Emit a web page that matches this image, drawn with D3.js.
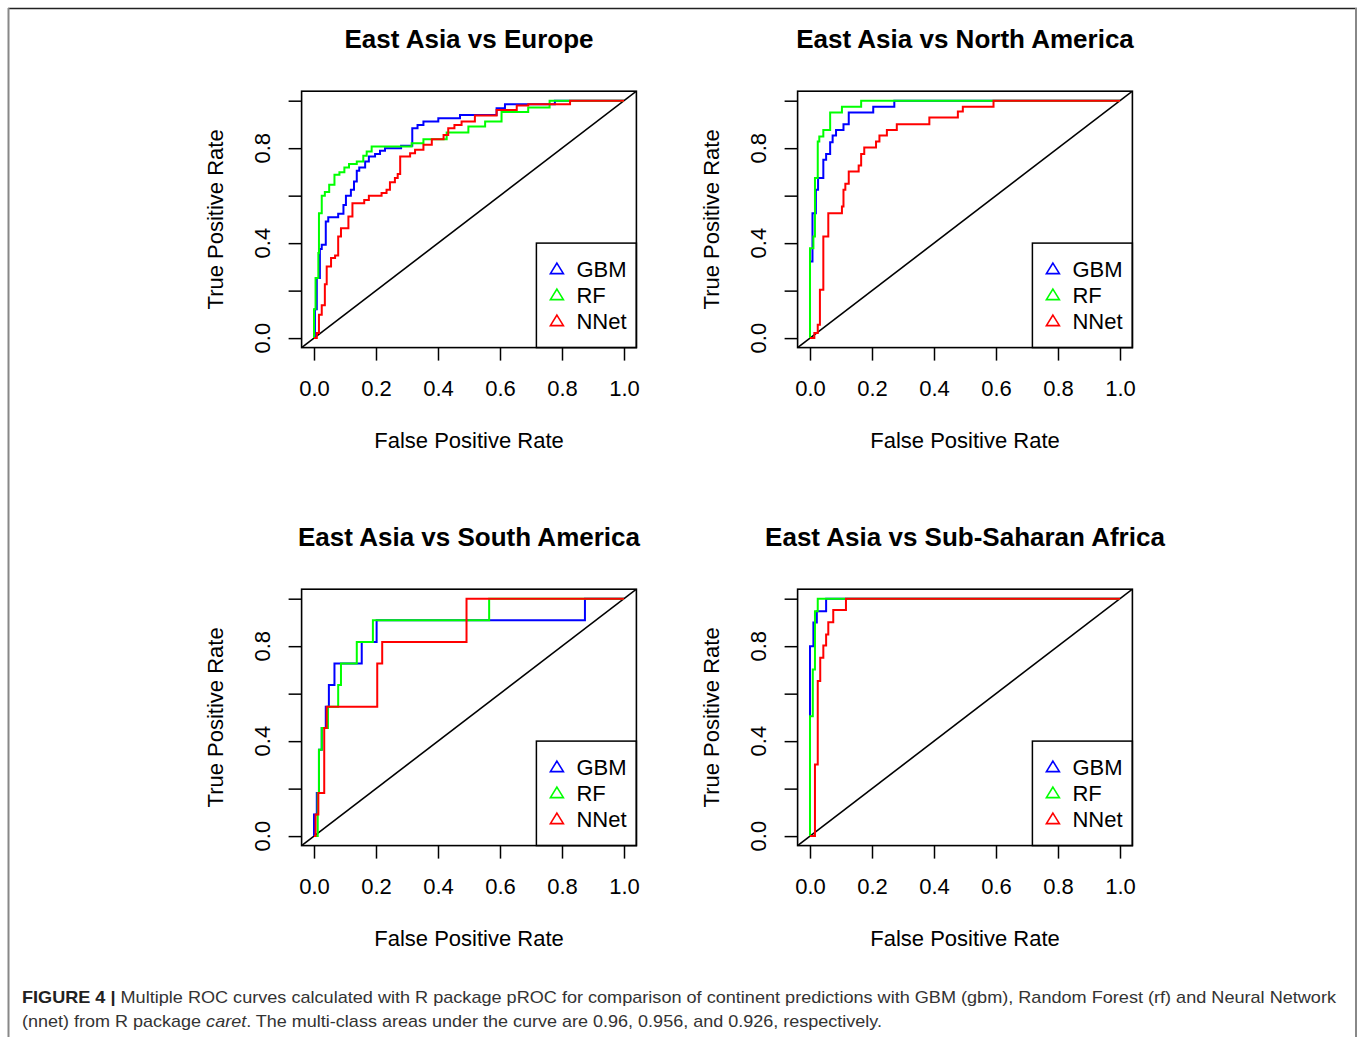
<!DOCTYPE html>
<html>
<head>
<meta charset="utf-8">
<script src="https://cdn.jsdelivr.net/npm/d3@7"></script>
<style>
  body { margin: 0; background: #fff; }
  text { font-family: "Liberation Sans", Arial, sans-serif; }
</style>
</head>
<body>
<div id="chart"></div>
<script>
// axis ticks
var fprTicks = [0, 0.2, 0.4, 0.6, 0.8, 1.0];
var tprTicks = [0, 0.2, 0.4, 0.6, 0.8, 1.0];
var tprLabels = [0, 0.4, 0.8];

var panelTitles = ["East Asia vs Europe", "East Asia vs North America",
                   "East Asia vs South America", "East Asia vs Sub-Saharan Africa"];
var models = ["GBM", "RF", "NNet"];

// each point = [fpr where the curve rises, tpr after the rise]
var europeGBM = [[0,0],[0.003,0.122],[0.009,0.253],[0.019,0.375],[0.025,0.393],[0.038,0.491],[0.046,0.509],
  [0.078,0.524],[0.095,0.561],[0.103,0.6],[0.119,0.625],[0.129,0.66],[0.138,0.705],[0.146,0.719],[0.165,0.744],
  [0.177,0.765],[0.197,0.776],[0.213,0.789],[0.229,0.8],[0.281,0.81],[0.317,0.884],[0.334,0.898],[0.353,0.912],
  [0.401,0.926],[0.471,0.94],[0.589,0.968],[0.616,0.985],[0.777,1],[1,1]];
var europeRF = [[0,0],[0,0.122],[0.005,0.253],[0.014,0.358],[0.016,0.526],[0.025,0.6],[0.035,0.615],[0.049,0.646],
  [0.066,0.688],[0.082,0.699],[0.098,0.719],[0.113,0.733],[0.138,0.744],[0.159,0.768],[0.17,0.786],[0.186,0.807],
  [0.315,0.821],[0.353,0.838],[0.428,0.866],[0.498,0.891],[0.552,0.912],[0.605,0.952],[0.691,0.971],[0.76,1],[1,1]];
var europeNNet = [[0,0],[0.009,0.021],[0.016,0.098],[0.025,0.138],[0.035,0.227],[0.041,0.302],[0.055,0.337],
  [0.068,0.348],[0.078,0.428],[0.087,0.463],[0.111,0.512],[0.124,0.568],[0.162,0.582],[0.177,0.6],[0.218,0.611],
  [0.234,0.625],[0.245,0.657],[0.261,0.674],[0.27,0.691],[0.278,0.765],[0.31,0.779],[0.326,0.793],[0.353,0.814],
  [0.38,0.838],[0.418,0.856],[0.433,0.884],[0.453,0.898],[0.476,0.912],[0.519,0.938],[0.589,0.961],[0.654,0.98],
  [0.691,0.985],[0.826,1],[1,1]];

var northGBM = [[0,0],[0,0.323],[0.008,0.526],[0.019,0.625],[0.026,0.674],[0.043,0.751],[0.052,0.775],
  [0.065,0.825],[0.073,0.853],[0.084,0.877],[0.108,0.901],[0.125,0.95],[0.204,0.975],[0.272,1],[1,1]];
var northRF = [[0,0],[0,0.379],[0.011,0.428],[0.016,0.674],[0.025,0.828],[0.03,0.849],[0.043,0.877],
  [0.065,0.95],[0.103,0.975],[0.165,1],[1,1]];
var northNNet = [[0,0],[0.014,0.021],[0.025,0.056],[0.032,0.204],[0.043,0.428],[0.059,0.526],[0.103,0.554],
  [0.108,0.625],[0.114,0.65],[0.125,0.702],[0.157,0.727],[0.165,0.775],[0.175,0.803],[0.213,0.828],
  [0.224,0.853],[0.248,0.877],[0.28,0.901],[0.385,0.929],[0.477,0.954],[0.493,0.975],[0.592,1],[1,1]];

var southGBM = [[0,0],[0,0.091],[0.009,0.182],[0.016,0.364],[0.025,0.455],[0.038,0.545],[0.048,0.636],
  [0.066,0.727],[0.154,0.818],[0.202,0.909],[0.874,1],[1,1]];
var southRF = [[0,0],[0.012,0.182],[0.016,0.364],[0.025,0.455],[0.045,0.545],[0.078,0.636],[0.087,0.727],
  [0.138,0.818],[0.19,0.909],[0.565,1],[1,1]];
var southNNet = [[0,0],[0.005,0.091],[0.014,0.182],[0.033,0.455],[0.041,0.545],[0.204,0.727],[0.22,0.818],
  [0.492,1],[1,1]];

var africaGBM = [[0,0],[0,0.8],[0.011,0.9],[0.022,0.947],[0.052,1],[1,1]];
var africaRF = [[0,0],[0,0.505],[0.009,0.702],[0.016,0.947],[0.025,1],[1,1]];
var africaNNet = [[0,0],[0.016,0.302],[0.025,0.653],[0.033,0.751],[0.043,0.803],[0.052,0.849],
  [0.059,0.901],[0.075,0.952],[0.116,1],[1,1]];

var panels = [
  {title: panelTitles[0], curves: [europeGBM, europeRF, europeNNet]},
  {title: panelTitles[1], curves: [northGBM, northRF, northNNet]},
  {title: panelTitles[2], curves: [southGBM, southRF, southNNet]},
  {title: panelTitles[3], curves: [africaGBM, africaRF, africaNNet]}
];

var colors = ["#0000ff", "#00ff00", "#ff0000"];

var W = 1358, H = 1037;
var svg = d3.select("#chart").append("svg")
    .attr("width", W).attr("height", H);

// outer frame
svg.append("line").attr("x1", 8).attr("x2", 1357).attr("y1", 8.5).attr("y2", 8.5)
    .attr("stroke", "#222").attr("stroke-width", 1.5);
svg.append("line").attr("x1", 8.5).attr("x2", 8.5).attr("y1", 8).attr("y2", H)
    .attr("stroke", "#888").attr("stroke-width", 2);
svg.append("line").attr("x1", 1356).attr("x2", 1356).attr("y1", 8).attr("y2", H)
    .attr("stroke", "#888").attr("stroke-width", 2);

var boxW = 334.8, boxH = 256.4;

panels.forEach(function(p, i) {
    var col = i % 2, row = Math.floor(i / 2);
    var left = 301.6 + 496 * col, top = 91.2 + 498 * row;

    var x = d3.scaleLinear().domain([-0.04, 1.04]).range([left, left + boxW]);
    var y = d3.scaleLinear().domain([-0.04, 1.04]).range([top + boxH, top]);

    var g = svg.append("g");

    // title
    g.append("text")
        .attr("x", left + boxW / 2).attr("y", top - 43)
        .attr("text-anchor", "middle")
        .attr("font-size", 26).attr("font-weight", "bold")
        .text(p.title);

    // x axis
    var xAxis = d3.axisBottom(x).tickValues(fprTicks).tickSize(13).tickPadding(22)
        .tickFormat(d3.format(".1f"));
    var ax = g.append("g").attr("transform", "translate(0," + (top + boxH) + ")").call(xAxis);
    ax.select(".domain").remove();
    ax.selectAll("line").attr("stroke", "#000").attr("stroke-width", 1.5);
    ax.selectAll("text").attr("font-size", 22).attr("fill", "#000")
        .attr("font-family", "Liberation Sans, Arial, sans-serif")
        .attr("dy", null).attr("y", 48);

    // y axis
    var yAxis = d3.axisLeft(y).tickValues(tprTicks).tickSize(13).tickFormat("");
    var ay = g.append("g").attr("transform", "translate(" + left + ",0)").call(yAxis);
    ay.select(".domain").remove();
    ay.selectAll("line").attr("stroke", "#000").attr("stroke-width", 1.5);

    g.selectAll(".ylab").data(tprLabels).enter().append("text")
        .attr("class", "ylab")
        .attr("transform", function(d) { return "translate(" + (left - 31.5) + "," + y(d) + ") rotate(-90)"; })
        .attr("text-anchor", "middle")
        .attr("font-size", 22)
        .text(d3.format(".1f"));

    // axis titles
    g.append("text")
        .attr("x", left + boxW / 2).attr("y", top + boxH + 100)
        .attr("text-anchor", "middle").attr("font-size", 22)
        .text("False Positive Rate");
    g.append("text")
        .attr("transform", "translate(" + (left - 79) + "," + (top + boxH / 2) + ") rotate(-90)")
        .attr("text-anchor", "middle").attr("font-size", 22)
        .text("True Positive Rate");

    // clip for abline
    var clipId = "clip" + i;
    g.append("clipPath").attr("id", clipId).append("rect")
        .attr("x", left).attr("y", top).attr("width", boxW).attr("height", boxH);

    g.append("line")
        .attr("clip-path", "url(#" + clipId + ")")
        .attr("x1", x(-0.04)).attr("y1", y(-0.04))
        .attr("x2", x(1.04)).attr("y2", y(1.04))
        .attr("stroke", "#000").attr("stroke-width", 1.6);

    var line = d3.line()
        .x(function(d) { return x(d[0]); })
        .y(function(d) { return y(d[1]); })
        .curve(d3.curveStepAfter);

    g.selectAll(".roc").data(p.curves).enter().append("path")
        .attr("class", "roc")
        .attr("d", line)
        .attr("fill", "none")
        .attr("stroke", function(d, k) { return colors[k]; })
        .attr("stroke-width", 2);

    // legend
    var lgW = 100, lgH = 104.5;
    var lx = left + boxW - lgW, ly = top + boxH - lgH;
    g.append("rect").attr("x", lx).attr("y", ly).attr("width", lgW).attr("height", lgH)
        .attr("fill", "#fff").attr("stroke", "#000").attr("stroke-width", 1.5);

    var items = g.selectAll(".lg").data(models).enter().append("g")
        .attr("class", "lg")
        .attr("transform", function(d, k) { return "translate(" + lx + "," + (ly + 34 + 26 * k) + ")"; });
    items.append("path")
        .attr("d", "M20.5,-14 L27,-3.5 L14,-3.5 Z")
        .attr("fill", "none")
        .attr("stroke", function(d, k) { return colors[k]; })
        .attr("stroke-width", 1.6);
    items.append("text")
        .attr("x", 40).attr("y", 0)
        .attr("font-size", 22)
        .text(function(d) { return d; });

    // plot box
    g.append("rect").attr("x", left).attr("y", top).attr("width", boxW).attr("height", boxH)
        .attr("fill", "none").attr("stroke", "#000").attr("stroke-width", 1.6);
});

// caption
var cap1 = svg.append("text").attr("x", 22).attr("y", 1003)
    .attr("font-size", 17).attr("fill", "#333")
    .attr("textLength", 1314).attr("lengthAdjust", "spacingAndGlyphs");
cap1.append("tspan").attr("font-weight", "bold").attr("fill", "#222").text("FIGURE 4 | ");
cap1.append("tspan").text("Multiple ROC curves calculated with R package pROC for comparison of continent predictions with GBM (gbm), Random Forest (rf) and Neural Network");

var cap2 = svg.append("text").attr("x", 22).attr("y", 1027)
    .attr("font-size", 17).attr("fill", "#333")
    .attr("textLength", 860).attr("lengthAdjust", "spacingAndGlyphs");
cap2.append("tspan").text("(nnet) from R package ");
cap2.append("tspan").attr("font-style", "italic").text("caret");
cap2.append("tspan").text(". The multi-class areas under the curve are 0.96, 0.956, and 0.926, respectively.");
</script>
</body>
</html>
